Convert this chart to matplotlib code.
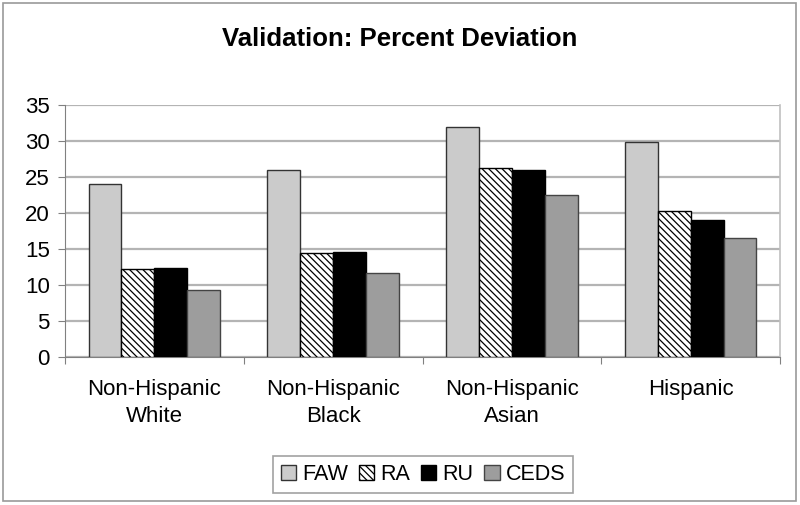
import matplotlib
matplotlib.use("Agg")
import matplotlib.pyplot as plt
import numpy as np
from matplotlib.patches import Rectangle

plt.rcParams['font.family'] = ['Liberation Sans', 'DejaVu Sans']
plt.rcParams['hatch.linewidth'] = 0.9

categories = ['Non-Hispanic\nWhite', 'Non-Hispanic\nBlack', 'Non-Hispanic\nAsian', 'Hispanic']
series = ['FAW', 'RA', 'RU', 'CEDS']
faw = [24.0, 25.9, 31.9, 29.8]
ra = [12.2, 14.4, 26.2, 20.3]
ru = [12.4, 14.6, 25.9, 19.0]
ceds = [9.3, 11.6, 22.5, 16.5]
yticks = [0, 5, 10, 15, 20, 25, 30, 35]

fig = plt.figure(figsize=(8, 5.05), dpi=100)
fig.patches.append(Rectangle((0.004, 0.008), 0.991, 0.986, transform=fig.transFigure,
                             fill=False, edgecolor='#9a9a9a', linewidth=1.2))
ax = fig.add_axes([0.08125, 0.2937, 0.89375, 0.4983])

x = np.arange(len(categories))
w = 0.184
styles = [dict(color='#cbcbcb', edgecolor='#333333', hatch=None),
          dict(color='white', edgecolor='black', hatch='\\' * 5),
          dict(color='black', edgecolor='black', hatch=None),
          dict(color='#9d9d9d', edgecolor='#444444', hatch=None)]
for i, (name, vals) in enumerate(zip(series, [faw, ra, ru, ceds])):
    st = styles[i]
    ax.bar(x + (i - 1.5) * w, vals, w, color=st['color'], edgecolor=st['edgecolor'],
           hatch=st['hatch'], linewidth=1.0, label=name, zorder=3)

ax.set_ylim(0, 35)
ax.set_xlim(-0.5, 3.5)
ax.set_yticks(yticks)
ax.yaxis.grid(True, color='#b4b4b4', linewidth=1.6, zorder=0)
ax.set_axisbelow(True)
ax.tick_params(axis='y', labelsize=16, length=5, color='#808080', pad=6)

ax.set_xticks([-0.5, 0.5, 1.5, 2.5, 3.5])
ax.set_xticklabels([])
ax.set_xticks(x, minor=True)
ax.set_xticklabels(categories, minor=True, fontsize=16, linespacing=1.4)
ax.tick_params(axis='x', which='major', length=5, color='#808080')
ax.tick_params(axis='x', which='minor', length=0, pad=16)

ax.spines['top'].set_visible(False)
ax.spines['right'].set_color('#c0c0c0')
ax.spines['right'].set_linewidth(1.2)
ax.spines['left'].set_color('#808080')
ax.spines['bottom'].set_color('#808080')

fig.text(0.5, 0.922, 'Validation: Percent Deviation', ha='center', va='center',
         fontsize=18.5, fontweight='bold')

leg = fig.legend(loc='center', bbox_to_anchor=(0.529, 0.0604), ncol=4, fontsize=15.5,
                 frameon=True, fancybox=False, edgecolor='#8a8a8a', handlelength=0.7,
                 handleheight=0.7, handletextpad=0.3, columnspacing=0.5, borderpad=0.35)
leg.get_frame().set_linewidth(1.2)

fig.savefig('out.png', dpi=100)
